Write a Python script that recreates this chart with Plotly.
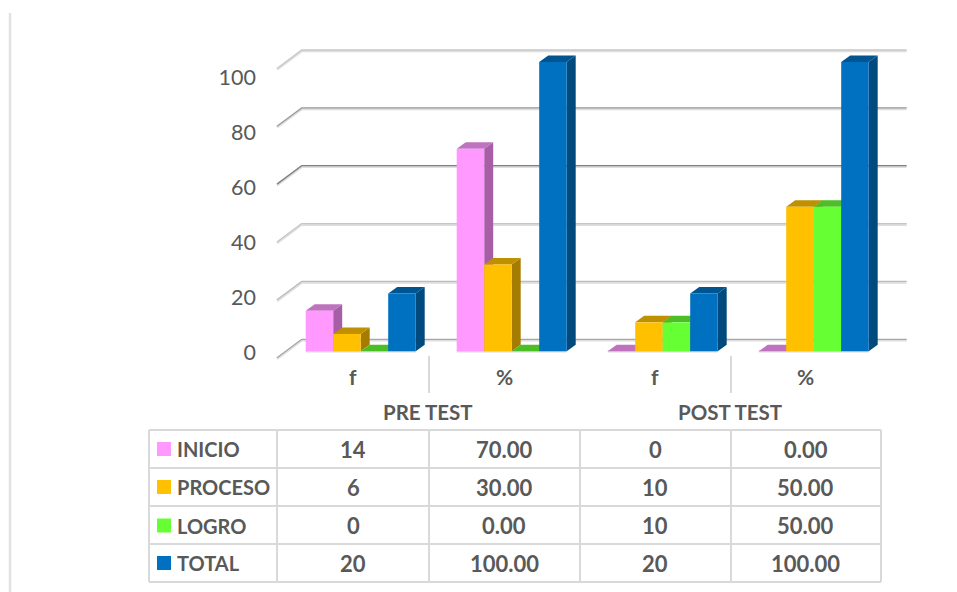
import plotly.graph_objects as go

# ---- data ----
groups = ["f", "%", "f", "%"]
tests = ["PRE TEST", "POST TEST"]
inicio = [14, 70, 0, 0]
proceso = [6, 30, 10, 50]
logro = [0, 0, 10, 50]
total = [20, 100, 20, 100]
series_names = ["INICIO", "PROCESO", "LOGRO", "TOTAL"]
y_ticks = [0, 20, 40, 60, 80, 100]

# ---- style ----
W, H = 957, 592
FONT = "Lato"
TXT = "#595959"
LINE = "#d9d9d9"
front_cols = ["#ff99ff", "#ffc000", "#66ff33", "#0070c0"]
side_cols = ["#a65fa6", "#a67c00", "#43a621", "#004a7e"]
top_cols = ["#bf73bf", "#bf9000", "#4dbf26", "#005490"]
grid_cols = ["#a6a6a6", "#bdbdbd", "#c6c6c6", "#808080", "#9c9c9c", "#cacaca"]

X0, XU = 360.7, 151.0      # px of first group centre, px per group
Y0, YU = 351.3, 2.893      # px of value 0, px per value unit
GROUP_W = 110 / 151
BAR_W = GROUP_W / 4
DX = 9 / XU                # bar depth
DY = 6.5 / YU


def px(x):
    return x / W


def py(y):
    return 1 - y / H


fig = go.Figure()
all_vals = [inicio, proceso, logro, total]

# back wall gridlines (with the slanted floor/side wall stub)
wall_left = (277 - X0) / XU
wall_back = (301.7 - X0) / XU
wall_right = (906.7 - X0) / XU
wall_front_dy = (351.3 - 357.7) / YU
wall_back_dy = (351.3 - 339.3) / YU
shadow_dy = 1.0 / YU
for v, c in zip(y_ticks, grid_cols):
    fig.add_trace(go.Scatter(
        x=[wall_left, wall_back, wall_right],
        y=[v + wall_front_dy - shadow_dy, v + wall_back_dy - shadow_dy, v + wall_back_dy - shadow_dy],
        mode="lines", line=dict(color="#dedede", width=2.6),
        hoverinfo="skip", showlegend=False))
    fig.add_trace(go.Scatter(
        x=[wall_left, wall_back, wall_right],
        y=[v + wall_front_dy, v + wall_back_dy, v + wall_back_dy],
        mode="lines", line=dict(color=c, width=1.3),
        hoverinfo="skip", showlegend=False))

# soft edge under each group of bars
for g in range(len(groups)):
    fig.add_trace(go.Scatter(
        x=[g - GROUP_W / 2, g + GROUP_W / 2], y=[0, 0], mode="lines",
        line=dict(color="#dcdcdc", width=2.4), hoverinfo="skip", showlegend=False))

# side and top faces, left to right
for i, vals in enumerate(all_vals):
    sx, sy, tx, ty = [], [], [], []
    for g, v in enumerate(vals):
        left = g - GROUP_W / 2 + i * BAR_W
        right = left + BAR_W
        sx += [right, right + DX, right + DX, right, right, None]
        sy += [0, DY, v + DY, v, 0, None]
        tx += [left, left + DX, right + DX, right, left, None]
        ty += [v, v + DY, v + DY, v, v, None]
    fig.add_trace(go.Scatter(x=sx, y=sy, mode="lines", fill="toself",
                             fillcolor=side_cols[i], line=dict(width=0, color=side_cols[i]),
                             hoverinfo="skip", showlegend=False))
    fig.add_trace(go.Scatter(x=tx, y=ty, mode="lines", fill="toself",
                             fillcolor=top_cols[i], line=dict(width=0, color=top_cols[i]),
                             hoverinfo="skip", showlegend=False))

# front faces
for i, vals in enumerate(all_vals):
    fig.add_trace(go.Bar(x=list(range(4)), y=vals, name=series_names[i],
                         marker=dict(color=front_cols[i], line=dict(width=0)),
                         xaxis="x2", yaxis="y2", showlegend=False))

# axis whose labels carry the value scale
fig.add_trace(go.Scatter(x=[None], y=[None], xaxis="x", yaxis="y3",
                         hoverinfo="skip", showlegend=False))

xr = [(0 - X0) / XU, (W - X0) / XU]
yr = [(Y0 - H) / YU, Y0 / YU]
hidden = dict(visible=False, showgrid=False, zeroline=False, fixedrange=True)

shapes = []


def hline(x0, x1, y, c=LINE, w=2):
    shapes.append(dict(type="line", xref="paper", yref="paper", x0=px(x0), x1=px(x1),
                       y0=py(y), y1=py(y), line=dict(color=c, width=w)))


def vline(x, y0, y1, c=LINE, w=2):
    shapes.append(dict(type="line", xref="paper", yref="paper", x0=px(x), x1=px(x),
                       y0=py(y0), y1=py(y1), line=dict(color=c, width=w)))


# table grid
col_x = [149, 277, 429, 580, 731, 881]
row_y = [430, 468, 506, 544, 582]
for y in row_y:
    hline(col_x[0], col_x[-1], y)
for x in col_x:
    vline(x, row_y[0], row_y[-1])
# category separators
vline(429, 356, 393)
vline(731, 356, 393)
# stray page rule on the left
vline(10, 13, 592, "#e2e2e2", 2.5)

ann = []


def text(x, y, s, size=20, anchor="center"):
    ann.append(dict(xref="paper", yref="paper", x=px(x), y=py(y), text=f"<b>{s}</b>",
                    showarrow=False, xanchor=anchor, yanchor="middle",
                    font=dict(family=FONT, size=size, color=TXT)))


cat_x = [353, 504.5, 655, 805.5]
for x, g in zip(cat_x, groups):
    text(x, 376, g, 21)
text(428, 412, tests[0], 20.5)
text(730, 412, tests[1], 20.5)

row_c = [449, 487, 525.5, 563]
for r, (name, vals) in enumerate(zip(series_names, all_vals)):
    yc = row_c[r]
    shapes.append(dict(type="rect", xref="paper", yref="paper", x0=px(157), x1=px(171),
                       y0=py(yc - 7), y1=py(yc + 7), line=dict(width=0),
                       fillcolor=front_cols[r]))
    text(174.5, yc, name, 20, "left")
    for c, v in enumerate(vals):
        s = f"{v:.2f}" if groups[c] == "%" else f"{v:d}"
        text(cat_x[c], yc, s, 22)

fig.update_layout(
    width=W, height=H, margin=dict(l=0, r=0, t=0, b=0),
    paper_bgcolor="white", plot_bgcolor="white", showlegend=False,
    barmode="group", bargap=1 - GROUP_W, bargroupgap=0,
    font=dict(family=FONT, color=TXT),
    xaxis=dict(domain=[0, 1], range=xr, **hidden),
    yaxis=dict(domain=[0, 1], range=yr, **hidden),
    xaxis2=dict(overlaying="x", range=xr, **hidden),
    yaxis2=dict(overlaying="y", range=yr, **hidden),
    yaxis3=dict(overlaying="y", anchor="free", position=px(256), side="left",
                range=[(352 - H) / 2.75, 352 / 2.75],
                tickmode="array", tickvals=y_ticks, ticktext=[str(t) for t in y_ticks],
                showgrid=False, zeroline=False, showline=False, ticks="", fixedrange=True,
                tickfont=dict(family=FONT, size=21.5, color=TXT)),
    shapes=shapes, annotations=ann,
)

fig.write_html("out.html", config={"displayModeBar": False},
               post_script="document.body.style.margin='0';document.body.style.overflow='hidden';")
